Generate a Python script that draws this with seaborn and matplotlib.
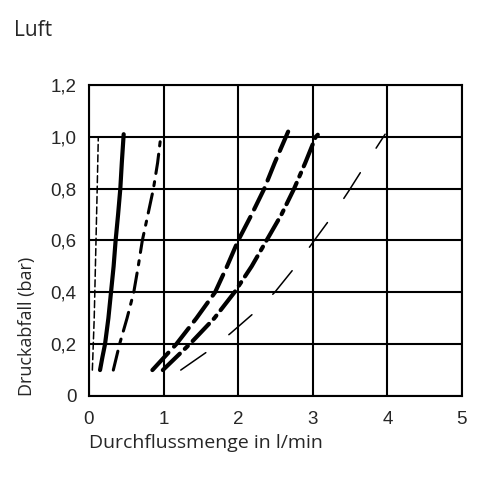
import matplotlib
matplotlib.use("Agg")
import matplotlib.pyplot as plt
import seaborn as sns
import pandas as pd

# Pressure drop curves for air (Druckabfall vs. Durchflussmenge)
curve_a_x = [0.045, 0.07, 0.09, 0.11, 0.125]
curve_a_y = [0.10, 0.30, 0.55, 0.80, 1.00]

curve_b_x = [0.148, 0.18, 0.215, 0.26, 0.295, 0.33, 0.357, 0.39, 0.42, 0.44, 0.465]
curve_b_y = [0.10, 0.15, 0.20, 0.30, 0.40, 0.50, 0.60, 0.70, 0.80, 0.90, 1.01]

curve_c_x = [0.326, 0.41, 0.51, 0.60, 0.66, 0.715, 0.79, 0.864, 0.92, 0.966]
curve_c_y = [0.10, 0.20, 0.30, 0.40, 0.50, 0.60, 0.70, 0.80, 0.90, 1.01]

curve_d_x = [0.85, 1.17, 1.44, 1.69, 1.85, 2.00, 2.18, 2.35, 2.49, 2.64, 2.67]
curve_d_y = [0.10, 0.20, 0.30, 0.40, 0.50, 0.60, 0.70, 0.80, 0.90, 1.00, 1.02]

curve_e_x = [0.99, 1.35, 1.68, 1.95, 2.18, 2.38, 2.58, 2.75, 2.90, 3.04, 3.11]
curve_e_y = [0.10, 0.20, 0.30, 0.40, 0.50, 0.60, 0.70, 0.80, 0.90, 1.00, 1.02]

curve_f_x = [1.23, 1.58, 1.89, 2.21, 2.49, 2.77, 3.02, 3.25, 3.48, 3.70, 3.97]
curve_f_y = [0.10, 0.17, 0.24, 0.32, 0.40, 0.50, 0.60, 0.69, 0.79, 0.89, 1.01]

x_ticks = [0, 1, 2, 3, 4, 5]
y_ticks = [0, 0.2, 0.4, 0.6, 0.8, 1.0, 1.2]
y_tick_labels = ["0", "0,2", "0,4", "0,6", "0,8", "1,0", "1,2"]

sns.set_style("white")
plt.rcParams["lines.scale_dashes"] = False
plt.rcParams["font.family"] = ["Liberation Sans", "DejaVu Sans"]

curves = [
    ("a", curve_a_x, curve_a_y, 1.1, (0, (5, 2.5))),
    ("b", curve_b_x, curve_b_y, 3.0, "-"),
    ("c", curve_c_x, curve_c_y, 2.2, (0, (14, 6, 3, 6))),
    ("d", curve_d_x, curve_d_y, 3.0, (0, (17, 6))),
    ("e", curve_e_x, curve_e_y, 3.0, (0, (17, 5, 3, 5))),
    ("f", curve_f_x, curve_f_y, 1.1, (0, (22, 21))),
]

fig = plt.figure(figsize=(4.8, 4.8), dpi=100)
ax = fig.add_axes([0.1854, 0.175, 0.777, 0.648])

for name, xs, ys, lw, ls in curves:
    df = pd.DataFrame({"Durchfluss": xs, "Druck": ys})
    line_ax = sns.lineplot(data=df, x="Durchfluss", y="Druck", ax=ax,
                           color="black", linewidth=lw, sort=False,
                           estimator=None, solid_capstyle="round",
                           dash_capstyle="round")
    line_ax.lines[-1].set_linestyle(ls)

ax.set_xlim(0, 5)
ax.set_ylim(0, 1.2)
ax.set_xticks(x_ticks)
ax.set_yticks(y_ticks)
ax.set_yticklabels(y_tick_labels)
ax.grid(True, color="black", linewidth=1.5)
ax.set_axisbelow(True)
for s in ax.spines.values():
    s.set_color("black")
    s.set_linewidth(1.5)
ax.tick_params(axis="both", length=0, labelsize=13.5)
ax.tick_params(axis="x", pad=11)
ax.tick_params(axis="y", pad=9)
for lbl in ax.get_xticklabels() + ax.get_yticklabels():
    lbl.set_family(["Liberation Sans", "DejaVu Sans"])

ax.set_xlabel("Durchflussmenge in l/min", fontsize=14, family=["Open Sans", "DejaVu Sans"],
              loc="left", labelpad=4)
ax.set_ylabel("Druckabfall (bar)", fontsize=13, family=["Open Sans", "DejaVu Sans"],
              loc="bottom", labelpad=10)

fig.text(0.03, 0.937, "Luft", fontsize=15, family=["Open Sans", "DejaVu Sans"],
         ha="left", va="center")

fig.savefig("out.png", dpi=100)
